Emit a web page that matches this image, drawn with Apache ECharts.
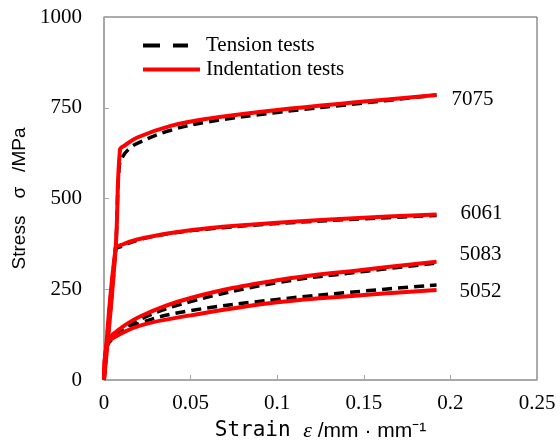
<!DOCTYPE html>
<html>
<head>
<meta charset="utf-8">
<script src="https://cdn.jsdelivr.net/npm/echarts@6/dist/echarts.min.js"></script>
<style>html,body{margin:0;padding:0;background:#fff;}#c{width:560px;height:447px;}</style>
</head>
<body>
<div id="c"></div>
<script>
// ---- data (strain, stress MPa); a repeated point marks a sharp yield corner ----
var xTicks = [0, 0.05, 0.1, 0.15, 0.2, 0.25];
var yTicks = [0, 250, 500, 750, 1000];
var alloyNames = ['7075', '6061', '5083', '5052'];
var legendNames = ['Tension tests', 'Indentation tests'];

var ten7075 = [[0,0],[0.0067,363],[0.0088,590],[0.0088,590],[0.011,617],[0.0145,637],[0.0192,652],[0.0385,688],[0.06,711],[0.1,737],[0.15,763],[0.192,785]];
var ind7075 = [[0,0],[0.0067,363],[0.0092,634],[0.0092,634],[0.012,646],[0.0192,668],[0.0385,700],[0.06,720],[0.1,744],[0.15,767],[0.192,785]];
var ten6061 = [[0,0],[0.0067,358],[0.0067,358],[0.01,368],[0.0192,385],[0.0385,404],[0.06,416],[0.1,431],[0.15,444],[0.192,453]];
var ind6061 = [[0,0],[0.0067,363],[0.0067,363],[0.01,372],[0.0192,387],[0.0385,405],[0.06,418],[0.1,433],[0.15,447],[0.192,456]];
var ten5083 = [[0,0],[0.0015,90],[0.005,118],[0.0208,167],[0.05,216],[0.1,268],[0.15,299],[0.192,322]];
var ind5083 = [[0,0],[0.0015,95],[0.005,125],[0.0208,175],[0.05,226],[0.1,275],[0.15,304],[0.192,326]];
var ten5052 = [[0,0],[0.0015,90],[0.005,113],[0.0208,157],[0.05,191],[0.1,222],[0.15,245],[0.192,262]];
var ind5052 = [[0,0],[0.0015,95],[0.005,115],[0.0208,150],[0.05,178],[0.1,214],[0.15,234],[0.192,248]];

var tensionSets = [ten7075, ten6061, ten5083, ten5052];
var indentSets = [ind7075, ind6061, ind5083, ind5052];
var labelOffsets = [[15,4],[24,-1],[23,-7],[23,2]];

var serif = '"Liberation Serif","Times New Roman",serif';
var sans = '"Liberation Sans",Arial,sans-serif';
var series = [];
tensionSets.forEach(function (d) {
  series.push({
    name: legendNames[0], type: 'line', data: d, symbol: 'none', smooth: 0.4,
    lineStyle: { color: '#000', width: 3.5, type: [10, 6] }, itemStyle: { color: '#000' }, z: 2
  });
});
indentSets.forEach(function (d, i) {
  series.push({
    name: legendNames[1], type: 'line', data: d, symbol: 'none', smooth: 0.4,
    lineStyle: { color: '#ff0000', width: 4 }, itemStyle: { color: '#ff0000' }, z: 3,
    endLabel: { show: true, formatter: alloyNames[i], distance: 0, offset: labelOffsets[i],
      color: '#000', fontFamily: serif, fontSize: 21 }
  });
});

var chart = echarts.init(document.getElementById('c'), null, { renderer: 'canvas' });
chart.setOption({
  animation: false,
  backgroundColor: '#fff',
  grid: { left: 104, right: 23, top: 17, bottom: 67, show: true, borderColor: '#595959', borderWidth: 1 },
  legend: [
    { data: [legendNames[0]], left: 143, top: 35, padding: 0, itemWidth: 45, itemHeight: 4,
      icon: 'path://M0,0h17v4h-17z M30,0h15v4h-15z', symbolKeepAspect: false,
      itemStyle: { color: '#000' },
      textStyle: { fontFamily: serif, fontSize: 21, color: '#000', padding: [0, 0, 0, 13] } },
    { data: [legendNames[1]], left: 143, top: 59, padding: 0, itemWidth: 57, itemHeight: 4,
      icon: 'rect', symbolKeepAspect: false,
      itemStyle: { color: '#ff0000' },
      textStyle: { fontFamily: serif, fontSize: 21, color: '#000', padding: [0, 0, 0, 1] } }
  ],
  xAxis: {
    type: 'value', min: 0, max: 0.25, interval: 0.05,
    name: '{a|Strain }{e|ε}{b| /mm · mm⁻¹}',
    nameLocation: 'middle', nameGap: 40,
    nameTextStyle: { rich: {
      a: { fontFamily: '"DejaVu Sans Mono",monospace', fontSize: 21, color: '#000' },
      e: { fontFamily: serif, fontStyle: 'italic', fontSize: 22, color: '#000' },
      b: { fontFamily: sans, fontSize: 21, color: '#000' }
    } },
    axisLine: { lineStyle: { color: '#a6a6a6', width: 1.5 } },
    axisTick: { inside: true, length: 5, lineStyle: { color: '#a6a6a6' } },
    splitLine: { show: false },
    axisLabel: { fontFamily: serif, fontSize: 21, color: '#000', margin: 13,
      formatter: function (v) { return String(+v.toFixed(2)); } }
  },
  yAxis: {
    type: 'value', min: 0, max: 1000, interval: 250,
    name: '{a|Stress}{b|σ}{c|/MPa}',
    nameLocation: 'middle', nameGap: 61,
    nameTextStyle: { rich: {
      a: { fontFamily: sans, fontSize: 19, color: '#000', padding: [0, 17, 0, 0] },
      b: { fontFamily: sans, fontSize: 19, color: '#000', padding: [0, 15, 0, 0] },
      c: { fontFamily: sans, fontSize: 19, color: '#000' }
    } },
    axisLine: { show: true, lineStyle: { color: '#a6a6a6', width: 1.5 } },
    axisTick: { show: true, inside: true, length: 5, lineStyle: { color: '#a6a6a6' } },
    splitLine: { show: false },
    axisLabel: { fontFamily: serif, fontSize: 21, color: '#000', margin: 22,
      formatter: function (v) { return String(v); } }
  },
  series: series
});
</script>
</body>
</html>
